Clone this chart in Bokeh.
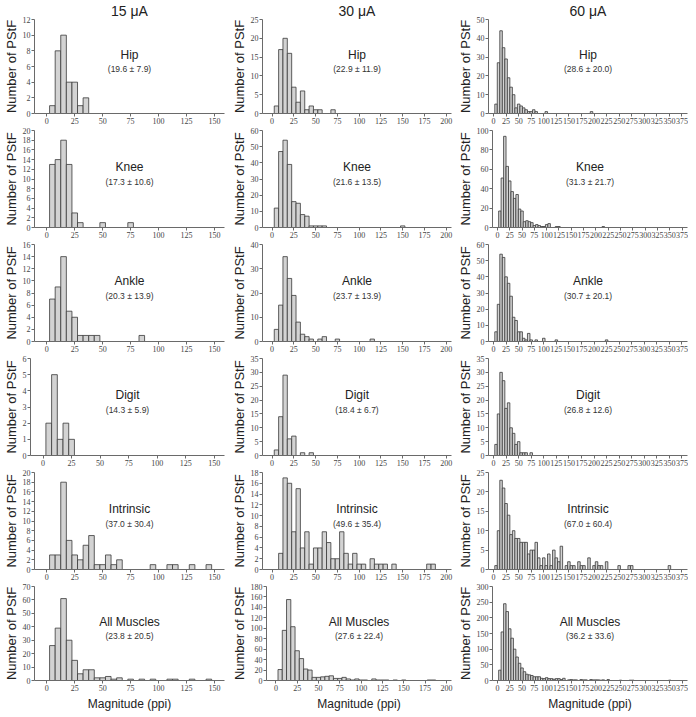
from bokeh.plotting import figure
from bokeh.layouts import column, row
from bokeh.models import FixedTicker, Range1d, Label
from bokeh.embed import file_html
from bokeh.resources import INLINE

# ---------------- data ----------------
currents = ["15 \u03bcA", "30 \u03bcA", "60 \u03bcA"]
muscles = ["Hip", "Knee", "Ankle", "Digit", "Intrinsic", "All Muscles"]

# 15 uA  (bin centres in ppi, counts)
hip15_x = [5, 10, 15, 20, 25, 30, 35]
hip15_n = [1, 8, 10, 4, 4, 1, 2]
knee15_x = [5, 10, 15, 20, 25, 30, 50, 75]
knee15_n = [13, 14, 18, 13, 3, 1, 1, 1]
ankle15_x = [5, 10, 15, 20, 25, 30, 35, 40, 45, 85]
ankle15_n = [7, 9, 14, 5, 4, 1, 1, 1, 1, 1]
digit15_x = [5, 10, 15, 20, 25]
digit15_n = [2, 5, 1, 2, 1]
intr15_x = [5, 10, 15, 20, 25, 30, 35, 40, 45, 50, 55, 60, 65, 95, 110, 115, 130, 145]
intr15_n = [3, 3, 18, 6, 3, 2, 5, 7, 1, 1, 3, 1, 2, 1, 1, 1, 1, 1]
all15_x = [5, 10, 15, 20, 25, 30, 35, 40, 45, 50, 55, 60, 65, 75, 85, 95, 110, 115, 130, 145]
all15_n = [26, 39, 61, 30, 15, 5, 8, 8, 2, 2, 3, 1, 2, 1, 1, 1, 1, 1, 1, 1]

# 30 uA
hip30_x = [5, 10, 15, 20, 25, 30, 35, 40, 45, 50, 55, 70]
hip30_n = [2, 17, 20, 16, 7, 3, 6, 1, 2, 1, 1, 1]
knee30_x = [5, 10, 15, 20, 25, 30, 35, 40, 45, 50, 55, 60, 150]
knee30_n = [12, 47, 54, 39, 16, 15, 8, 7, 1, 1, 1, 1, 1]
ankle30_x = [5, 10, 15, 20, 25, 30, 35, 40, 45, 55, 60, 75, 115]
ankle30_n = [5, 15, 35, 26, 19, 8, 3, 2, 1, 1, 2, 1, 1]
digit30_x = [5, 10, 15, 20, 25, 35, 45]
digit30_n = [2, 14, 29, 6, 7, 1, 1]
intr30_x = [10, 15, 20, 25, 30, 35, 40, 45, 50, 55, 60, 65, 70, 75, 80, 85, 90, 95,
            100, 105, 115, 120, 125, 130, 140, 180, 185]
intr30_n = [3, 17, 16, 7, 15, 4, 7, 1, 4, 4, 7, 5, 2, 2, 7, 3, 1, 3,
            1, 1, 2, 1, 1, 1, 1, 1, 1]
all30_x = [5, 10, 15, 20, 25, 30, 35, 40, 45, 50, 55, 60, 65, 70, 75, 80, 85, 90, 95,
           100, 105, 115, 120, 125, 130, 140, 150, 180, 185]
all30_n = [21, 96, 155, 103, 57, 42, 22, 20, 6, 6, 7, 8, 9, 4, 4, 6, 3, 1, 3,
           1, 1, 3, 1, 1, 1, 1, 1, 1, 1]

# 60 uA
hip60_x = [5, 10, 15, 20, 25, 30, 35, 40, 45, 50, 55, 60, 65, 70, 75, 80, 85, 105, 195]
hip60_n = [5, 27, 44, 35, 29, 19, 14, 10, 3, 5, 4, 3, 2, 1, 1, 2, 1, 1, 1]
knee60_x = [5, 10, 15, 20, 25, 30, 35, 40, 45, 50, 55, 60, 65, 70, 75, 80, 85, 90, 95,
            100, 105, 120, 125, 215]
knee60_n = [17, 51, 94, 63, 48, 37, 30, 34, 19, 17, 6, 7, 6, 5, 2, 3, 2, 1, 1,
            3, 4, 1, 1, 1]
ankle60_x = [5, 10, 15, 20, 25, 30, 35, 40, 45, 50, 55, 60, 65, 70, 75, 85, 100, 125, 225]
ankle60_n = [6, 23, 54, 52, 40, 36, 28, 15, 13, 6, 6, 2, 1, 5, 1, 1, 2, 1, 1]
digit60_x = [5, 10, 15, 20, 25, 30, 35, 40, 45, 50, 55, 60, 65, 75]
digit60_n = [4, 15, 30, 27, 17, 19, 10, 8, 4, 5, 1, 1, 1, 1]
intr60_x = [5, 10, 15, 20, 25, 30, 35, 40, 45, 50, 55, 60, 65, 70, 75, 80, 85, 90, 95,
            100, 105, 110, 115, 120, 125, 130, 135, 145, 150, 155, 160, 170, 175, 180,
            190, 200, 205, 210, 215, 225, 250, 270, 275, 350]
intr60_n = [1, 10, 23, 21, 17, 14, 9, 10, 8, 8, 7, 7, 7, 4, 5, 5, 7, 3, 1,
            3, 1, 4, 1, 5, 3, 2, 6, 1, 2, 1, 1, 2, 1, 1,
            3, 1, 2, 1, 1, 2, 1, 1, 1, 1]
all60_x = [5, 10, 15, 20, 25, 30, 35, 40, 45, 50, 55, 60, 65, 70, 75, 80, 85, 90, 95,
           100, 105, 110, 115, 120, 125, 130, 135, 145, 150, 155, 160, 170, 175, 180,
           190, 195, 200, 205, 210, 215, 225, 250, 270, 275, 350]
all60_n = [33, 155, 245, 220, 165, 135, 100, 75, 55, 40, 28, 20, 18, 16, 12, 12, 12, 7, 6,
           9, 6, 6, 4, 6, 6, 3, 7, 2, 3, 2, 2, 3, 2, 2,
           3, 2, 2, 2, 1, 2, 3, 1, 1, 1, 1]

stats15 = ["(19.6 \u00b1 7.9)", "(17.3 \u00b1 10.6)", "(20.3 \u00b1 13.9)",
           "(14.3 \u00b1 5.9)", "(37.0 \u00b1 30.4)", "(23.8 \u00b1 20.5)"]
stats30 = ["(22.9 \u00b1 11.9)", "(21.6 \u00b1 13.5)", "(23.7 \u00b1 13.9)",
           "(18.4 \u00b1 6.7)", "(49.6 \u00b1 35.4)", "(27.6 \u00b1 22.4)"]
stats60 = ["(28.6 \u00b1 20.0)", "(31.3 \u00b1 21.7)", "(30.7 \u00b1 20.1)",
           "(26.8 \u00b1 12.6)", "(67.0 \u00b1 60.4)", "(36.2 \u00b1 33.6)"]

ymax15 = [12, 20, 16, 6, 20, 70]
ystep15 = [2, 2, 2, 1, 2, 10]
ymax30 = [25, 60, 40, 35, 18, 180]
ystep30 = [5, 10, 10, 5, 2, 20]
ymax60 = [50, 100, 60, 35, 25, 300]
ystep60 = [10, 20, 10, 5, 5, 50]

xticks15 = [0, 25, 50, 75, 100, 125, 150]
xticks30 = [0, 25, 50, 75, 100, 125, 150, 175, 200]
xticks60 = [0, 25, 50, 75, 100, 125, 150, 175, 200, 225, 250, 275, 300, 325, 350, 375]

bin_width = 5

cols = [
    dict(data=[(hip15_x, hip15_n), (knee15_x, knee15_n), (ankle15_x, ankle15_n),
               (digit15_x, digit15_n), (intr15_x, intr15_n), (all15_x, all15_n)],
         stats=stats15, ymax=ymax15, ystep=ystep15, xticks=xticks15, xr=(-11, 159)),
    dict(data=[(hip30_x, hip30_n), (knee30_x, knee30_n), (ankle30_x, ankle30_n),
               (digit30_x, digit30_n), (intr30_x, intr30_n), (all30_x, all30_n)],
         stats=stats30, ymax=ymax30, ystep=ystep30, xticks=xticks30, xr=(-11, 206)),
    dict(data=[(hip60_x, hip60_n), (knee60_x, knee60_n), (ankle60_x, ankle60_n),
               (digit60_x, digit60_n), (intr60_x, intr60_n), (all60_x, all60_n)],
         stats=stats60, ymax=ymax60, ystep=ystep60, xticks=xticks60, xr=(-10, 386)),
]

# ---------------- layout / style ----------------
FONT = "Liberation Sans"
TICK_FONT = "Liberation Sans Narrow"
COL_W = [228, 226, 234]
COL_L = [28, 32, 32]
COL_R = [4, 3, 1]
FRAME_H = 97
AX = "#6a6a6a"


def make_panel(ci, ri):
    c = cols[ci]
    xs, ns = c["data"][ri]
    ymax = c["ymax"][ri]
    ystep = c["ystep"][ri]
    top_b = 16 if ri == 0 else 3
    bot_b = 14 + (16 if ri == 5 else 0)
    h = top_b + FRAME_H + bot_b
    p = figure(width=COL_W[ci], height=h, output_backend="svg", toolbar_location=None,
               x_range=Range1d(*c["xr"]), y_range=Range1d(0, ymax),
               min_border_left=COL_L[ci], min_border_right=COL_R[ci],
               min_border_top=top_b, min_border_bottom=bot_b,
               title=currents[ci] if ri == 0 else None)
    p.outline_line_color = None
    p.xgrid.visible = False
    p.ygrid.visible = False
    p.vbar(x=xs, top=ns, width=bin_width, bottom=0,
           fill_color="#d3d3d3", line_color="#383838", line_width=0.8)
    for ax in (p.xaxis[0], p.yaxis[0]):
        ax.axis_line_color = AX
        ax.major_tick_line_color = AX
        ax.minor_tick_line_color = None
        ax.major_tick_out = 3
        ax.major_tick_in = 0
        ax.major_label_text_font = TICK_FONT
        ax.major_label_text_font_size = "8px"
        ax.major_label_text_color = "#444444"
        ax.major_label_standoff = 1
        ax.axis_label_text_font = FONT
        ax.axis_label_text_font_style = "normal"
        ax.axis_label_text_color = "#222222"
    p.xaxis.ticker = FixedTicker(ticks=c["xticks"])
    p.yaxis.ticker = FixedTicker(ticks=list(range(0, ymax + 1, ystep)))
    p.yaxis.axis_label = "Number of PStF"
    p.yaxis.axis_label_text_font_size = "13px"
    p.yaxis.axis_label_standoff = 1
    if ri == 5:
        p.xaxis.axis_label = "Magnitude (ppi)"
        p.xaxis.axis_label_text_font_size = "12px"
        p.xaxis.axis_label_standoff = 3
    if ri == 0:
        p.title.align = "center"
        p.title.text_font = FONT
        p.title.text_font_size = "14px"
        p.title.text_font_style = "normal"
        p.title.text_color = "#222222"
        p.title.standoff = 1
    xm = (c["xr"][0] + c["xr"][1]) / 2
    p.add_layout(Label(x=xm, y=ymax * 0.62, text=muscles[ri], text_align="center",
                       text_baseline="middle", text_font=FONT, text_font_size="12px",
                       text_color="#222222"))
    p.add_layout(Label(x=xm, y=ymax * 0.47, text=c["stats"][ri], text_align="center",
                       text_baseline="middle", text_font=FONT, text_font_size="8.5px",
                       text_color="#333333"))
    return p


rows = []
for ri in range(6):
    rows.append(row(*[make_panel(ci, ri) for ci in range(3)]))
layout = column(*rows)

open("out.html", "w").write(file_html(layout, INLINE))
